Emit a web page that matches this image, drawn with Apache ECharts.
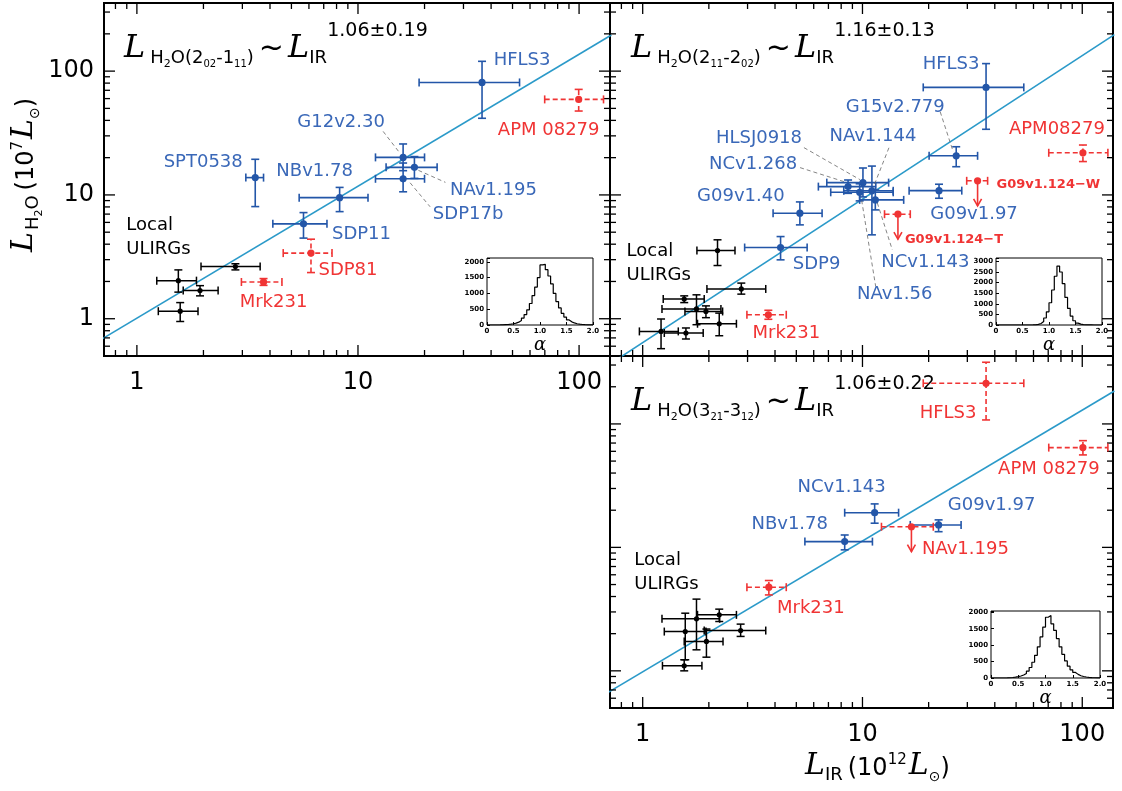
<!DOCTYPE html>
<html><head><meta charset="utf-8">
<script src="https://cdn.jsdelivr.net/npm/echarts@6/dist/echarts.min.js"></script>
<style>html,body{margin:0;padding:0;background:#fff}#c{width:1122px;height:791px}</style>
</head><body><div id="c"></div>
<script>
// ---------------- DATA ----------------
// type: 0 = local ULIRG (black), 1 = fitted high-z (blue), 2 = excluded (red, dashed), 3 = upper limit (red)
const p1Name = ['U1','U2','U3','U4','Mrk231','SDP81','SPT0538','SDP11','NBv1.78','G12v2.30','NAv1.195','SDP17b','HFLS3','APM 08279'];
const p1Type = [0,0,0,0,2,2,1,1,1,1,1,1,1,2];
const p1X   = [1.54,1.57,1.93,2.79,3.74,6.13,3.43,5.67,8.26,16.0,18.0,16.0,36.4,99.6];
const p1XLo = [1.23,1.25,1.62,1.95,2.97,4.59,3.11,4.12,5.42,12.0,13.4,12.0,18.9,69.9];
const p1XHi = [1.86,1.89,2.33,3.61,4.53,7.63,3.74,7.24,11.1,20.0,22.8,20.0,53.8,129];
const p1Y   = [2.03,1.15,1.69,2.64,1.98,3.39,13.8,5.84,9.51,20.1,16.7,13.5,81.0,59.1];
const p1YLo = [1.64,0.95,1.53,2.48,1.86,2.36,8.05,4.48,7.33,15.7,13.6,10.6,41.6,47.6];
const p1YHi = [2.48,1.35,1.85,2.78,2.11,4.39,19.4,7.20,11.5,25.8,20.4,18.1,120,71.2];

const p2Name = ['U1','U2','U3','U4','U5','U6','U7','U8','Mrk231','SDP9','G09v1.40','NCv1.268','HLSJ0918','NAv1.56','NAv1.144','NCv1.143','G15v2.779','G09v1.97','HFLS3','APM08279','G09v1.124-W','G09v1.124-T'];
const p2Type = [0,0,0,0,0,0,0,0,2,1,1,1,1,1,1,1,1,1,1,2,3,3];
const p2X   = [2.19,2.81,1.545,1.94,1.757,2.23,1.573,1.212,3.73,4.24,5.19,8.6,10.05,9.71,11.04,11.44,26.7,22.3,36.5,100.7,33.4,14.5];
const p2XLo = [1.765,1.96,1.24,1.557,1.224,1.776,1.254,0.966,2.98,2.91,3.92,6.3,6.88,7.17,8.22,9.71,20.1,16.3,18.9,70.4,29.8,12.6];
const p2XHi = [2.63,3.63,1.905,2.31,2.27,2.67,1.885,1.452,4.50,5.60,6.55,11.5,13.15,13.8,13.8,15.4,33.4,28.3,54.2,130.8,37.1,16.5];
const p2Y   = [3.55,1.74,1.44,1.145,1.20,0.911,0.767,0.79,1.077,3.76,7.12,11.67,12.57,10.5,10.8,9.12,20.7,10.83,73.9,21.9,13.0,6.99];
const p2YLo = [2.69,1.58,1.35,1.02,0.895,0.729,0.686,0.573,0.99,2.99,5.73,10.3,9.64,8.95,4.76,7.57,16.9,9.4,33.9,18.6,13.0,6.99];
const p2YHi = [4.34,1.94,1.53,1.27,1.56,1.11,0.842,0.995,1.17,4.61,8.78,13.2,16.5,12.3,17.1,10.97,24.5,12.2,115,25.3,13.0,6.99];

const p3Name = ['U1','U2','U3','U4','U5','U6','Mrk231','NBv1.78','NCv1.143','G09v1.97','NAv1.195','HFLS3','APM 08279'];
const p3Type = [0,0,0,0,0,0,2,1,1,1,3,2,2];
const p3X   = [2.23,1.757,1.562,2.79,1.95,1.545,3.75,8.3,11.36,22.2,16.7,36.5,100.7];
const p3XLo = [1.776,1.224,1.254,1.905,1.545,1.23,2.98,5.47,8.3,16.5,12.2,18.9,70.4];
const p3XHi = [2.67,2.24,1.94,3.63,2.32,1.86,4.50,11.1,14.6,28.1,21.0,54.2,130.8];
const p3Y   = [2.84,2.64,2.08,2.12,1.73,1.10,4.76,11.14,19.1,15.2,14.7,213.6,64.3];
const p3YLo = [2.51,1.48,1.23,1.90,1.29,1.00,4.12,9.55,15.7,13.4,14.7,107.7,56.1];
const p3YHi = [3.16,3.81,2.93,2.39,2.18,1.23,5.39,12.6,22.5,16.7,14.7,316,73.2];

// power-law fit lines (end points)
const fitX  = [0.7, 140];
const fit1Y = [0.69, 196];
const fit2Y = [0.424, 197];
const fit3Y = [0.673, 185];
const fitExp = ['1.06\u00b10.19','1.16\u00b10.13','1.06\u00b10.22'];

// axis ticks
const tickMajor = [1, 10, 100];
const tickMinor = [0.6,0.7,0.8,0.9,2,3,4,5,6,7,8,9,20,30,40,50,60,70,80,90,200,300];

// alpha posterior histograms (bin left edges, counts)
const alphaBins = [0,0.05,0.1,0.15,0.2,0.25,0.3,0.35,0.4,0.45,0.5,0.55,0.6,0.65,0.7,0.75,0.8,0.85,0.9,0.95,1.0,1.05,1.1,1.15,1.2,1.25,1.3,1.35,1.4,1.45,1.5,1.55,1.6,1.65,1.7,1.75,1.8,1.85,1.9,1.95];
const hist1 = [0,0,0,0,2,5,10,15,25,40,60,90,140,220,330,480,680,930,1200,1500,1900,1920,1750,1550,1300,1000,740,540,370,250,160,100,65,40,25,15,10,6,3,2];
const hist2 = [0,0,0,0,0,0,0,0,0,0,0,0,0,3,10,30,70,160,330,620,1050,1650,2300,2780,2500,1950,1300,780,420,200,90,40,18,8,4,2,0,0,0,0];
const hist3 = [0,0,0,0,0,3,8,15,25,40,60,90,140,210,320,480,690,950,1250,1550,1850,1900,1650,1450,1200,950,720,520,360,250,170,110,70,45,30,20,12,8,5,3];

// ---------------- LAYOUT / STYLE ----------------
const SANS = '"DejaVu Sans", sans-serif';
const SERIF = '"DejaVu Serif", serif';
const BLUE_PT = '#2356a8', BLUE_TX = '#3a68b8', RED = '#f03434', FIT = '#2b9ac9';
const xMin = 0.71, xMax = 138, yMin = 0.5, yMax = 355;

const panels = [
  {name:p1Name,type:p1Type,x:p1X,xlo:p1XLo,xhi:p1XHi,y:p1Y,ylo:p1YLo,yhi:p1YHi},
  {name:p2Name,type:p2Type,x:p2X,xlo:p2XLo,xhi:p2XHi,y:p2Y,ylo:p2YLo,yhi:p2YHi},
  {name:p3Name,type:p3Type,x:p3X,xlo:p3XLo,xhi:p3XHi,y:p3Y,ylo:p3YLo,yhi:p3YHi}
];
const fits = [fit1Y, fit2Y, fit3Y];
const hists = [hist1, hist2, hist3];

// label offsets (pixels, relative to the point)
const labelLayout = [
  {
    'U1': {text:'Local\nULIRGs', dx:-52, dy:-43, align:'left', color:'#000'},
    'Mrk231': {dx:10, dy:20},
    'SDP81': {dx:37, dy:17},
    'SPT0538': {dx:-52, dy:-15},
    'SDP11': {dx:58, dy:10},
    'NBv1.78': {dx:-25, dy:-26},
    'G12v2.30': {dx:-62, dy:-35, leader:[-20,-26,-3,-4]},
    'NAv1.195': {dx:79, dy:23, leader:[4,3,31,15]},
    'SDP17b': {dx:65, dy:36, leader:[7,4,27,28]},
    'HFLS3': {dx:40, dy:-22},
    'APM 08279': {dx:-30, dy:31}
  },
  {
    'U1': {text:'Local\nULIRGs', dx:-91, dy:13, align:'left', color:'#000'},
    'Mrk231': {dx:18, dy:19},
    'SDP9': {dx:36, dy:17},
    'G09v1.40': {dx:-59, dy:-17},
    'NCv1.268': {dx:-95, dy:-22, leader:[-48,-19,-1,-4]},
    'HLSJ0918': {dx:-104, dy:-44, leader:[-59,-35,-3,-3]},
    'NAv1.56': {dx:35, dy:102, leader:[2,8,16,94]},
    'NAv1.144': {dx:1, dy:-54, leader:[17,-43,2,-5]},
    'NCv1.143': {dx:50, dy:62, leader:[2,3,17,50]},
    'G15v2.779': {dx:-61, dy:-48, leader:[-16,-44,-3,-4]},
    'G09v1.97': {dx:35, dy:24},
    'HFLS3': {dx:-35, dy:-23},
    'APM08279': {dx:-26, dy:-23},
    'G09v1.124-W': {text:'G09v1.124\u2212W', dx:19, dy:4, align:'left', size:13, bold:true},
    'G09v1.124-T': {text:'G09v1.124\u2212T', dx:7, dy:25, align:'left', size:13, bold:true}
  },
  {
    'U1': {text:'Local\nULIRGs', dx:-85, dy:-43, align:'left', color:'#000'},
    'Mrk231': {dx:42, dy:21},
    'NBv1.78': {dx:-55, dy:-17},
    'NCv1.143': {dx:-33, dy:-25},
    'G09v1.97': {dx:53, dy:-20},
    'NAv1.195': {dx:54, dy:23},
    'HFLS3': {dx:-38, dy:30},
    'APM 08279': {dx:-34, dy:22}
  }
];

const mainGrids = [
  {left:104, top:3, width:506, height:353},
  {left:610, top:3, width:503, height:353},
  {left:610, top:356, width:503, height:352}
];
const insetGrids = [
  {left:487, top:258, width:106, height:67, ymax:2120},
  {left:996, top:258, width:106, height:67, ymax:3160},
  {left:991, top:611, width:109, height:67, ymax:2040}
];

// ---------------- HELPERS ----------------
const mctx = document.createElement('canvas').getContext('2d');
function measure(t, font){ mctx.font = font; return mctx.measureText(t).width; }
function mathRow(pieces){
  let x = 0; const out = [];
  pieces.forEach(p => {
    x += p.dx || 0;
    const fam = p.serif ? SERIF : SANS;
    const fstyle = p.it ? 'italic' : 'normal';
    out.push({type:'text', x:x, y:(p.dy||0) - 0.35*p.s,
      style:{text:p.t, fill:'#000', fontSize:p.s, fontFamily:fam, fontStyle:fstyle, align:'left', verticalAlign:'middle'}});
    const w = measure(p.t, fstyle + ' ' + p.s + 'px ' + fam);
    if (!p.keep) x += w;
  });
  return out;
}
function titlePieces(a, b, c, d, exp){
  return [
    {t:'L', serif:1, it:1, s:32},
    {t:'H', s:18, dy:5, dx:5}, {t:'2', s:11, dy:8}, {t:'O(' + a, s:18, dy:5}, {t:b, s:10, dy:8},
    {t:'-' + c, s:18, dy:5}, {t:d, s:10, dy:8}, {t:')', s:18, dy:5},
    {t:'~', s:30, dx:5},
    {t:'L', serif:1, it:1, s:32, dx:4},
    {t:'IR', s:18, dy:5, keep:1},
    {t:exp, s:19, dy:-22, dx:18}
  ];
}
function decadeFmt(v){
  const l = Math.log10(v);
  return Math.abs(l - Math.round(l)) < 1e-6 ? String(Math.round(v)) : '';
}

function tickSeries(gi){
  const data = [];
  tickMajor.forEach(v => { if (v > xMin && v < xMax) data.push([v,1,0]); if (v > yMin && v < yMax) data.push([1,v,2]); });
  tickMinor.forEach(v => { if (v > xMin && v < xMax) data.push([v,1,1]); if (v > yMin && v < yMax) data.push([1,v,3]); });
  return {
    type:'custom', xAxisIndex:gi, yAxisIndex:gi, z:6, silent:true, clip:false, data:data,
    renderItem(params, api){
      const cs = params.coordSys; const k = api.value(2);
      const len = (k === 0 || k === 2) ? 11 : 6;
      const st = {stroke:'#000', lineWidth:1.3};
      if (k < 2){
        const px = api.coord([api.value(0), 1])[0];
        return {type:'group', children:[
          {type:'line', shape:{x1:px, y1:cs.y+cs.height, x2:px, y2:cs.y+cs.height-len}, style:st},
          {type:'line', shape:{x1:px, y1:cs.y, x2:px, y2:cs.y+len}, style:st}]};
      }
      const py = api.coord([1, api.value(1)])[1];
      return {type:'group', children:[
        {type:'line', shape:{x1:cs.x, y1:py, x2:cs.x+len, y2:py}, style:st},
        {type:'line', shape:{x1:cs.x+cs.width, y1:py, x2:cs.x+cs.width-len, y2:py}, style:st}]};
    }
  };
}

function pointSeries(gi){
  const P = panels[gi], LL = labelLayout[gi];
  const data = P.x.map((v,i) => [P.x[i],P.xlo[i],P.xhi[i],P.y[i],P.ylo[i],P.yhi[i],P.type[i]]);
  return {
    type:'custom', xAxisIndex:gi, yAxisIndex:gi, z:10, clip:false, silent:true,
    encode:{x:[0,1,2], y:[3,4,5]}, data:data,
    renderItem(params, api){
      const i = params.dataIndex;
      const x = api.value(0), xl = api.value(1), xh = api.value(2);
      const y = api.value(3), yl = api.value(4), yh = api.value(5), t = api.value(6);
      const c = api.coord([x,y]);
      const pxl = api.coord([xl,y])[0], pxh = api.coord([xh,y])[0];
      const pyl = api.coord([x,yl])[1], pyh = api.coord([x,yh])[1];
      const col = t === 0 ? '#000' : (t === 1 ? BLUE_PT : RED);
      const dashed = t >= 2;
      const lw = t === 0 ? 1.5 : 1.6;
      const cap = 4;
      const ch = [];
      const seg = (x1,y1,x2,y2,d) => {
        const st = {stroke:col, lineWidth:lw};
        if (d) st.lineDash = [5,3];
        ch.push({type:'line', shape:{x1:x1,y1:y1,x2:x2,y2:y2}, style:st});
      };
      seg(pxl,c[1],pxh,c[1],dashed);
      seg(pxl,c[1]-cap,pxl,c[1]+cap,false);
      seg(pxh,c[1]-cap,pxh,c[1]+cap,false);
      if (t !== 3){
        seg(c[0],pyl,c[0],pyh,dashed);
        seg(c[0]-cap,pyl,c[0]+cap,pyl,false);
        seg(c[0]-cap,pyh,c[0]+cap,pyh,false);
      } else {
        const al = 25;
        seg(c[0],c[1],c[0],c[1]+al,false);
        ch.push({type:'polyline', shape:{points:[[c[0]-4,c[1]+al-7],[c[0],c[1]+al],[c[0]+4,c[1]+al-7]]},
                 style:{stroke:col, lineWidth:1.6, fill:null}});
      }
      ch.push({type:'circle', shape:{cx:c[0], cy:c[1], r: t === 0 ? 2.6 : 3.6}, style:{fill:col}});
      const lab = LL[P.name[i]];
      if (lab){
        const tc = lab.color || (t === 1 ? BLUE_TX : (t === 0 ? '#000' : RED));
        if (lab.leader){
          const L = lab.leader;
          ch.push({type:'line', shape:{x1:c[0]+L[0], y1:c[1]+L[1], x2:c[0]+L[2], y2:c[1]+L[3]},
                   style:{stroke:'#666', lineWidth:0.8, lineDash:[4,3]}});
        }
        ch.push({type:'text', x:c[0]+lab.dx, y:c[1]+lab.dy,
          style:{text: lab.text || P.name[i], fill:tc, fontSize: lab.size || 18, fontFamily:SANS,
                 fontWeight: lab.bold ? 'bold' : 'normal', align: lab.align || 'center',
                 verticalAlign:'middle', lineHeight:24}});
      }
      return {type:'group', children:ch};
    }
  };
}

// ---------------- OPTION ----------------
const grids = mainGrids.map(g => ({left:g.left, top:g.top, width:g.width, height:g.height, show:true,
  borderColor:'#000', borderWidth:2, backgroundColor:'transparent', containLabel:false, outerBoundsMode:'none'}))
  .concat(insetGrids.map(g => ({left:g.left, top:g.top, width:g.width, height:g.height, show:true,
  borderColor:'#000', borderWidth:1, backgroundColor:'#fff', containLabel:false, outerBoundsMode:'none', z:20})));

const xAxes = [0,1,2].map(gi => ({
  gridIndex:gi, type:'log', logBase:10, min:xMin, max:xMax,
  axisLine:{show:false}, axisTick:{show:false}, splitLine:{show:false}, minorTick:{show:false},
  axisLabel:{show: gi !== 1, fontSize:24, fontFamily:SANS, color:'#000', margin:15, formatter:decadeFmt,
             showMinLabel:false, showMaxLabel:false}
})).concat(insetGrids.map((g,k) => ({
  gridIndex:3+k, type:'value', min:0, max:2, interval:0.5, z:21,
  axisLine:{show:false}, axisTick:{show:true, inside:true, length:3, lineStyle:{color:'#000'}},
  splitLine:{show:false},
  axisLabel:{fontSize:7, fontWeight:'bold', fontFamily:SANS, color:'#000', margin:3,
             formatter: v => v === 0 ? '0' : v.toFixed(1)},
  name:'\u03b1', nameLocation:'middle', nameGap:9,
  nameTextStyle:{fontFamily:SERIF, fontStyle:'italic', fontSize:18, color:'#000'}
})));

const yAxes = [0,1,2].map(gi => ({
  gridIndex:gi, type:'log', logBase:10, min:yMin, max:yMax,
  axisLine:{show:false}, axisTick:{show:false}, splitLine:{show:false}, minorTick:{show:false},
  axisLabel:{show: gi === 0, fontSize:24, fontFamily:SANS, color:'#000', margin:10, formatter:decadeFmt,
             showMinLabel:false, showMaxLabel:false}
})).concat(insetGrids.map((g,k) => ({
  gridIndex:3+k, type:'value', min:0, max:g.ymax, interval:500, z:21,
  axisLine:{show:false}, axisTick:{show:true, inside:true, length:3, lineStyle:{color:'#000'}},
  splitLine:{show:false},
  axisLabel:{fontSize:7, fontWeight:'bold', fontFamily:SANS, color:'#000', margin:3,
             formatter: v => (v % 500 === 0) ? String(v) : ''}
})));

const series = [];
[0,1,2].forEach(gi => {
  series.push({type:'line', xAxisIndex:gi, yAxisIndex:gi, data:[[fitX[0],fits[gi][0]],[fitX[1],fits[gi][1]]],
    symbol:'none', clip:true, z:3, silent:true, lineStyle:{color:FIT, width:1.6}});
  series.push(tickSeries(gi));
  series.push(pointSeries(gi));
});
hists.forEach((h,k) => {
  const d = alphaBins.map((b,i) => [b, h[i]]);
  d.push([2.0, h[h.length-1]]);
  series.push({type:'line', xAxisIndex:3+k, yAxisIndex:3+k, data:d, step:'end', symbol:'none', z:22,
    silent:true, lineStyle:{color:'#000', width:1.2}});
});

const graphic = [
  {type:'group', x:124, y:60, z:50, children: mathRow(titlePieces('2','02','1','11',fitExp[0]))},
  {type:'group', x:631, y:60, z:50, children: mathRow(titlePieces('2','11','2','02',fitExp[1]))},
  {type:'group', x:631, y:413, z:50, children: mathRow(titlePieces('3','21','3','12',fitExp[2]))},
  {type:'group', x:35, y:252, rotation:Math.PI/2, z:50, children: mathRow([
    {t:'L', serif:1, it:1, s:30}, {t:'H', s:18, dy:5, dx:2}, {t:'2', s:11, dy:8}, {t:'O', s:18, dy:5},
    {t:'(', s:24, dx:5}, {t:'10', s:24}, {t:'7', s:15, dy:-12},
    {t:'L', serif:1, it:1, s:30, dx:2}, {t:'\u2299', s:14, dy:5}, {t:')', s:24}
  ])},
  {type:'group', x:805, y:777, z:50, children: mathRow([
    {t:'L', serif:1, it:1, s:30}, {t:'IR', s:18, dy:5},
    {t:'(', s:24, dx:5}, {t:'10', s:24}, {t:'12', s:15, dy:-12},
    {t:'L', serif:1, it:1, s:30, dx:2}, {t:'\u2299', s:14, dy:5}, {t:')', s:24}
  ])}
];

const chart = echarts.init(document.getElementById('c'), null, {renderer:'canvas'});
chart.setOption({
  animation:false, backgroundColor:'#fff',
  grid:grids, xAxis:xAxes, yAxis:yAxes, series:series, graphic:graphic
});
</script>
</body></html>
